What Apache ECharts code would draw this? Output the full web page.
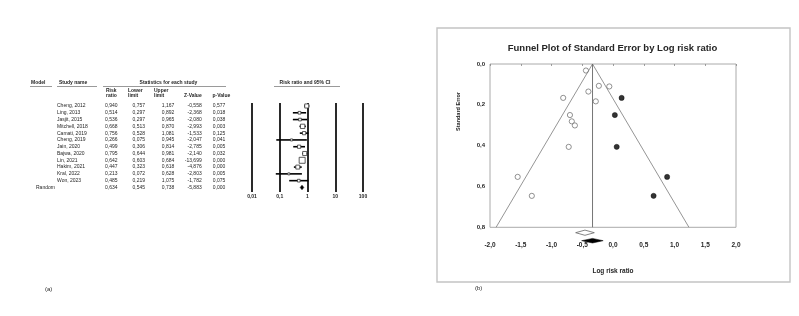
<!DOCTYPE html>
<html>
<head>
<meta charset="utf-8">
<script src="https://cdn.jsdelivr.net/npm/echarts@6/dist/echarts.min.js"></script>
<style>
  html, body { margin: 0; padding: 0; background: #fff; }
  #chart { width: 799px; height: 316px; }
</style>
</head>
<body>
<div id="chart"></div>
<script>
// (a) forest plot data
const studies = ['Cheng, 2012', 'Ling, 2013', 'Jasjit, 2015', 'Mitchell, 2018', 'Camati, 2019', 'Cheng, 2019',
  'Jain, 2020', 'Bajwa, 2020', 'Lin, 2021', 'Hakim, 2021', 'Kral, 2022', 'Won, 2023'];
const riskRatio = [0.940, 0.514, 0.536, 0.668, 0.756, 0.266, 0.499, 0.795, 0.642, 0.447, 0.213, 0.485];
const lowerLimit = [0.757, 0.297, 0.297, 0.513, 0.528, 0.075, 0.306, 0.644, 0.603, 0.323, 0.072, 0.219];
const upperLimit = [1.167, 0.892, 0.965, 0.870, 1.081, 0.945, 0.814, 0.981, 0.684, 0.618, 0.628, 1.075];
const zValue = [-0.558, -2.368, -2.080, -2.993, -1.533, -2.047, -2.785, -2.140, -13.699, -4.876, -2.803, -1.782];
const pValue = [0.577, 0.018, 0.038, 0.003, 0.125, 0.041, 0.005, 0.032, 0.000, 0.000, 0.005, 0.075];
const relWeight = [8, 3.5, 3.5, 9, 5, 2, 5, 8, 17, 7.5, 2, 3.5];
// random-effects summary: rr, lower, upper, z, p
const pooledStats = [0.634, 0.545, 0.738, -5.883, 0.000];
const forestTicks = [0.01, 0.1, 1, 10, 100];

// (b) funnel plot data
const observedLogRR = [-0.06, -0.67, -0.62, -0.40, -0.28, -1.32, -0.70, -0.23, -0.44, -0.81, -1.55, -0.72];
const observedSE = [0.110, 0.281, 0.301, 0.135, 0.183, 0.646, 0.250, 0.107, 0.032, 0.166, 0.553, 0.406];
const imputedLogRR = [0.14, 0.03, 0.06, 0.66, 0.88];
const imputedSE = [0.166, 0.250, 0.406, 0.646, 0.553];
// center, lower, upper (log scale)
const observedDiamond = [-0.456, -0.607, -0.304];
const adjustedDiamond = [-0.333, -0.51, -0.16];

const FONT = 'Liberation Sans, Arial, sans-serif';
const INK = '#262626';
const fmt3 = (v) => v.toFixed(3).replace('.', ',');
const fmt1 = (v) => v.toFixed(1).replace('.', ',');

const nRows = studies.length + 1;
const rowAxis = (gridIndex) => ({
  gridIndex, type: 'value', inverse: true, min: -0.44, max: 12.67, show: false
});

// table columns: right edge of each numeric column
const numCols = [117.5, 145, 174.3, 201.7, 225.3];

const tableRows = studies.map((s, i) => [i, s, riskRatio[i], lowerLimit[i], upperLimit[i], zValue[i], pValue[i]]);
tableRows.push([studies.length, ''].concat(pooledStats));

const forestRows = studies.map((s, i) => [i, riskRatio[i], lowerLimit[i], upperLimit[i], relWeight[i]]);
forestRows.push([studies.length, pooledStats[0], pooledStats[1], pooledStats[2], 0]);

function txt(x, y, text, align, bold, size) {
  return {
    type: 'text', x, y,
    style: { text, fill: INK, font: (bold ? 'bold ' : '') + (size || 5) + 'px ' + FONT, align: align || 'left', verticalAlign: 'middle' }
  };
}
function hline(x1, x2, y) {
  return { type: 'line', shape: { x1, y1: y, x2, y2: y }, style: { stroke: '#555', lineWidth: 0.6 } };
}

const chart = echarts.init(document.getElementById('chart'), null, { renderer: 'canvas' });

chart.setOption({
  animation: false,
  backgroundColor: '#fff',
  grid: [
    { left: 252, top: 103, width: 111, height: 89 },
    { left: 0, top: 103, width: 250, height: 89 },
    { left: 490, top: 64, width: 246, height: 163.3, show: true, borderColor: '#aaa', borderWidth: 1 }
  ],
  xAxis: [
    {
      gridIndex: 0, type: 'log', logBase: 10, min: 0.01, max: 100,
      axisLine: { show: false }, axisTick: { show: false },
      splitLine: { show: true, showMinLine: true, showMaxLine: true, lineStyle: { color: '#2a2a2a', width: 2 } },
      axisLabel: {
        margin: 2, fontSize: 5, fontWeight: 'bold', color: INK, fontFamily: FONT,
        formatter: (v) => String(parseFloat(v.toPrecision(3))).replace('.', ',')
      }
    },
    { gridIndex: 1, type: 'value', min: 0, max: 250, show: false },
    {
      gridIndex: 2, type: 'value', min: -2, max: 2, interval: 0.5,
      axisLine: { show: false },
      axisTick: { show: true, length: 2, lineStyle: { color: '#888', width: 0.8 } },
      splitLine: { show: false },
      axisLabel: { margin: 14, fontSize: 6.5, fontWeight: 'bold', color: INK, fontFamily: FONT, formatter: fmt1 },
      name: 'Log risk ratio', nameLocation: 'middle', nameGap: 40,
      nameTextStyle: { fontSize: 6.5, fontWeight: 'bold', color: INK, fontFamily: FONT }
    }
  ],
  yAxis: [
    rowAxis(0),
    rowAxis(1),
    {
      gridIndex: 2, type: 'value', inverse: true, min: 0, max: 0.8, interval: 0.2,
      axisLine: { show: false }, axisTick: { show: false }, splitLine: { show: false },
      axisLabel: { margin: 5, fontSize: 6, fontWeight: 'bold', color: INK, fontFamily: FONT, formatter: fmt1 }
    }
  ],
  series: [
    {
      // table of statistics
      type: 'custom', xAxisIndex: 1, yAxisIndex: 1, silent: true,
      data: tableRows.map((r) => [r[0]]),
      renderItem(params, api) {
        const row = tableRows[params.dataIndex];
        const i = api.value(0);
        const children = [];
        if (i === studies.length) {
          const p = api.coord([36, i]);
          children.push(txt(p[0], p[1], 'Random', 'left'));
        } else {
          const p = api.coord([57, i]);
          children.push(txt(p[0], p[1], row[1], 'left'));
        }
        numCols.forEach((cx, k) => {
          const p = api.coord([cx, i]);
          children.push(txt(p[0], p[1], fmt3(row[k + 2]), 'right'));
        });
        return { type: 'group', children };
      }
    },
    {
      // forest plot marks
      type: 'custom', xAxisIndex: 0, yAxisIndex: 0, silent: true, clip: false,
      data: forestRows,
      renderItem(params, api) {
        const i = api.value(0);
        const c = api.coord([api.value(1), i]);
        const lo = api.coord([api.value(2), i]);
        const hi = api.coord([api.value(3), i]);
        if (i === studies.length) {
          return {
            type: 'polygon',
            shape: { points: [[lo[0], c[1]], [c[0], c[1] - 2.3], [hi[0], c[1]], [c[0], c[1] + 2.3]] },
            style: { fill: '#000', stroke: '#000', lineWidth: 0.5 }
          };
        }
        const s = Math.sqrt(api.value(4)) * 1.45;
        return {
          type: 'group',
          children: [
            { type: 'line', shape: { x1: lo[0], y1: lo[1], x2: hi[0], y2: hi[1] }, style: { stroke: '#000', lineWidth: 1.6 } },
            { type: 'rect', shape: { x: c[0] - s / 2, y: c[1] - s / 2, width: s, height: s }, style: { fill: '#fff', stroke: '#333', lineWidth: 0.8 } }
          ]
        };
      }
    },
    {
      // funnel edges
      type: 'line', xAxisIndex: 2, yAxisIndex: 2, silent: true, symbol: 'none',
      data: [[adjustedDiamond[0] - 1.96 * 0.8, 0.8], [adjustedDiamond[0], 0], [adjustedDiamond[0] + 1.96 * 0.8, 0.8]],
      lineStyle: { color: '#7a7a7a', width: 0.8 }
    },
    {
      type: 'line', xAxisIndex: 2, yAxisIndex: 2, silent: true, symbol: 'none',
      data: [[adjustedDiamond[0], 0], [adjustedDiamond[0], 0.8]],
      lineStyle: { color: '#666', width: 0.9 }
    },
    {
      type: 'scatter', xAxisIndex: 2, yAxisIndex: 2, silent: true,
      symbol: 'circle', symbolSize: 5.2,
      data: observedLogRR.map((x, i) => [x, observedSE[i]]),
      itemStyle: { color: '#fff', borderColor: '#555', borderWidth: 0.8 }
    },
    {
      type: 'scatter', xAxisIndex: 2, yAxisIndex: 2, silent: true,
      symbol: 'circle', symbolSize: 5.2,
      data: imputedLogRR.map((x, i) => [x, imputedSE[i]]),
      itemStyle: { color: '#000', borderColor: '#000', borderWidth: 0.5 }
    },
    {
      // summary diamonds under the funnel
      type: 'custom', xAxisIndex: 2, yAxisIndex: 2, silent: true, clip: false,
      data: [observedDiamond, adjustedDiamond],
      renderItem(params, api) {
        const c = api.coord([api.value(0), 0.8]);
        const lo = api.coord([api.value(1), 0.8]);
        const hi = api.coord([api.value(2), 0.8]);
        const filled = params.dataIndex === 1;
        const y = c[1] + (filled ? 13.4 : 5.4);
        const h = filled ? 2.3 : 2.6;
        return {
          type: 'polygon',
          shape: { points: [[lo[0], y], [c[0], y - h], [hi[0], y], [c[0], y + h]] },
          style: filled ? { fill: '#000', stroke: '#000', lineWidth: 0.5 } : { fill: '#fff', stroke: '#666', lineWidth: 0.8 }
        };
      }
    }
  ],
  graphic: [
    // forest headers
    txt(31, 82.7, 'Model', 'left', true),
    hline(30, 52, 86.5),
    txt(59, 82.7, 'Study name', 'left', true),
    hline(57, 97, 86.5),
    txt(168.5, 82.7, 'Statistics for each study', 'center', true),
    hline(103, 226, 86.5),
    txt(106, 90.7, 'Risk', 'left', true),
    txt(106, 95.5, 'ratio', 'left', true),
    txt(128, 90.7, 'Lower', 'left', true),
    txt(128, 95.5, 'limit', 'left', true),
    txt(154, 90.7, 'Upper', 'left', true),
    txt(154, 95.5, 'limit', 'left', true),
    txt(201.7, 95.5, 'Z-Value', 'right', true),
    txt(212.5, 95.5, 'p-Value', 'left', true),
    txt(305, 82.7, 'Risk ratio and 95% CI', 'center', true),
    hline(274, 340, 86.5),
    txt(45, 289, '(a)', 'left', false, 6),
    // funnel frame and texts
    {
      type: 'rect', shape: { x: 437, y: 28, width: 353, height: 254 },
      style: { fill: 'none', stroke: '#c4c4c4', lineWidth: 1.4 }
    },
    txt(612.5, 48, 'Funnel Plot of Standard Error by Log risk ratio', 'center', true, 9.5),
    {
      type: 'text', x: 458, y: 111.5, rotation: Math.PI / 2,
      style: { text: 'Standard Error', fill: INK, font: 'bold 5.5px ' + FONT, align: 'center', verticalAlign: 'middle' }
    },
    txt(475, 288.5, '(b)', 'left', false, 6)
  ]
});
</script>
</body>
</html>
